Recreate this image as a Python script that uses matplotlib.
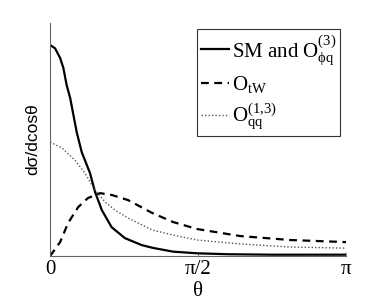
import matplotlib
matplotlib.use("Agg")
import matplotlib.pyplot as plt
import numpy as np

plt.rcParams.update({
    "font.family": "Liberation Serif",
    "mathtext.fontset": "custom",
    "mathtext.rm": "Liberation Serif",
    "mathtext.it": "Liberation Serif:italic",
    "mathtext.bf": "Liberation Serif:bold",
})

# angle in units of pi, cross sections in arbitrary units
theta_sm = [0.0, 0.017, 0.034, 0.045, 0.056, 0.068, 0.079, 0.090, 0.107,
            0.135, 0.152, 0.175, 0.208, 0.253, 0.310, 0.348, 0.416, 0.497,
            0.6, 0.75, 1.0]
sigma_sm = [0.906, 0.891, 0.850, 0.807, 0.734, 0.678, 0.605, 0.532, 0.446,
            0.356, 0.275, 0.197, 0.124, 0.077, 0.047, 0.035, 0.019, 0.012,
            0.008, 0.006, 0.006]

theta_tw = [0.0, 0.034, 0.061, 0.095, 0.128, 0.169, 0.209, 0.264, 0.345,
            0.416, 0.497, 0.642, 0.811, 1.0]
sigma_tw = [0.0, 0.060, 0.142, 0.210, 0.249, 0.270, 0.262, 0.240, 0.185,
            0.146, 0.116, 0.086, 0.069, 0.060]

theta_qq = [0.0, 0.040, 0.084, 0.118, 0.152, 0.186, 0.220, 0.264, 0.345,
            0.416, 0.497, 0.642, 0.811, 1.0]
sigma_qq = [0.489, 0.464, 0.412, 0.356, 0.283, 0.232, 0.197, 0.163, 0.112,
            0.090, 0.069, 0.052, 0.039, 0.034]

labels = [r"SM and O$^{(3)}_{\mathrm{\phi q}}$",
          r"O$_{\mathrm{tW}}$",
          r"O$^{(1{,}3)}_{\mathrm{qq}}$"]

fig = plt.figure(figsize=(3.82, 3.02), dpi=100)
ax = fig.add_axes([0.131, 0.152, 0.775, 0.772])

ax.plot(np.array(theta_sm) * np.pi, sigma_sm, color="black", lw=1.6,
        ls="-", label=labels[0])
ax.plot(np.array(theta_tw) * np.pi, sigma_tw, color="black", lw=1.6,
        ls=(0, (3.5, 2.5)), label=labels[1])
ax.plot(np.array(theta_qq) * np.pi, sigma_qq, color="#555555", lw=1.0,
        ls=(0, (1, 1.5)), label=labels[2])

ax.set_xlim(0, np.pi)
ax.set_ylim(0, 1.0)
ax.set_xticks([0, np.pi / 2, np.pi])
ax.set_xticklabels(["0", "π/2", "π"], fontsize=15)
ax.set_yticks([])
ax.tick_params(axis="x", direction="in", length=3, width=0.6,
               color="#777777", pad=3)
ax.set_xlabel("θ", fontsize=15, labelpad=2)
ax.set_ylabel("dσ/dcosθ", fontsize=12.5, family="Liberation Sans",
              labelpad=7)

for side in ["top", "right"]:
    ax.spines[side].set_visible(False)
for side in ["left", "bottom"]:
    ax.spines[side].set_color("#666666")
    ax.spines[side].set_linewidth(0.8)

leg = ax.legend(loc="upper right", bbox_to_anchor=(0.98, 0.975),
                fontsize=15, frameon=True, fancybox=False,
                handlelength=1.35, handletextpad=0.1, borderpad=0.2,
                labelspacing=0.35, borderaxespad=0)
leg.get_frame().set_edgecolor("black")
leg.get_frame().set_linewidth(0.8)

fig.savefig("out.png", dpi=100)
